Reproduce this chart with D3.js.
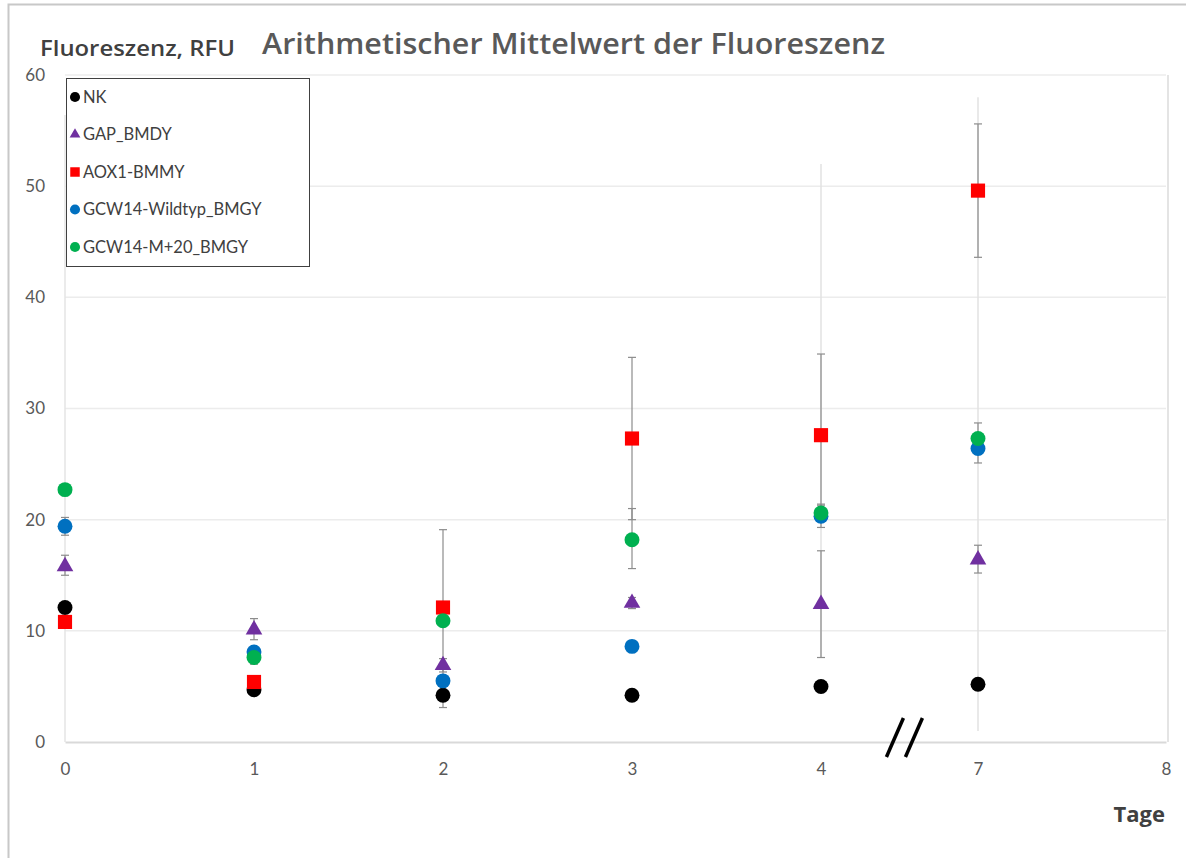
<!DOCTYPE html>
<html>
  <head>
    <meta charset="utf-8">
    <script src="https://cdn.jsdelivr.net/npm/d3@7"></script>
    <style>
      body { margin: 0; background: #fff; }
      text { font-family: Lato, "Open Sans", sans-serif; }
      .tick text { fill: #595959; font-size: 17px; }
      .legend text { fill: #404040; font-size: 16.5px; }
      .label { font-family: "Open Sans", Lato, sans-serif; }
    </style>
  </head>
  <body>
    <svg width="1186" height="859"></svg>
    <script>
      // data
      var days = [0, 1, 2, 3, 4, 7];
      var xTicks = [0, 1, 2, 3, 4, 7, 8];
      var yTicks = [0, 10, 20, 30, 40, 50, 60];
      var seriesNames = ['NK', 'GAP_BMDY', 'AOX1-BMMY', 'GCW14-Wildtyp_BMGY', 'GCW14-M+20_BMGY'];
      var seriesColors = ['#000000', '#7030a0', '#ff0000', '#0070c0', '#00b050'];
      var seriesShapes = ['circle', 'triangle', 'square', 'circle', 'circle'];

      var nkMean   = [12.1, 4.7, 4.2, 4.2, 5.0, 5.2];
      var nkLo     = [11.8, 4.4, 3.1, 4.0, 4.8, 5.0];
      var nkHi     = [12.4, 5.0, 5.3, 4.4, 5.2, 5.4];
      var gapMean  = [15.8, 10.1, 6.9, 12.5, 12.4, 16.4];
      var gapLo    = [15.0, 9.2, 6.3, 12.0, 7.6, 15.2];
      var gapHi    = [16.8, 11.1, 7.5, 13.0, 17.2, 17.7];
      var aoxMean  = [10.8, 5.4, 12.1, 27.3, 27.6, 49.6];
      var aoxLo    = [10.5, 5.1, 5.1, 20.0, 20.3, 43.6];
      var aoxHi    = [11.1, 5.7, 19.1, 34.6, 34.9, 55.6];
      var wtMean   = [19.4, 8.1, 5.5, 8.6, 20.3, 26.4];
      var wtLo     = [18.6, 7.7, 5.2, 8.3, 19.3, 25.1];
      var wtHi     = [20.2, 8.5, 5.8, 8.9, 21.3, 27.7];
      var m20Mean  = [22.7, 7.6, 10.9, 18.2, 20.6, 27.3];
      var m20Lo    = [22.3, 7.0, 10.5, 15.6, 20.0, 25.9];
      var m20Hi    = [23.1, 8.4, 11.3, 21.0, 21.4, 28.7];

      // faint leftover whiskers in the original picture
      var faintDays = [4, 7];
      var faintLo = [7.6, 1.0];
      var faintHi = [52.0, 58.0];

      var means = [nkMean, gapMean, aoxMean, wtMean, m20Mean];
      var los = [nkLo, gapLo, aoxLo, wtLo, m20Lo];
      var his = [nkHi, gapHi, aoxHi, wtHi, m20Hi];

      var svg = d3.select('svg');

      // page frame
      svg.append('path')
        .attr('d', 'M8.5,858 V4.5 H1186')
        .attr('fill', 'none')
        .attr('stroke', '#c8c8c8')
        .attr('stroke-width', 2);

      var x = d3.scaleLinear()
        .domain([0, 4, 7, 8])
        .range([65, 821, 978, 1166]);
      var y = d3.scaleLinear()
        .domain([0, 60])
        .range([742, 75]);

      // gridlines
      svg.append('g')
        .selectAll('line')
        .data(yTicks.filter(function (d) { return d > 0; }))
        .join('line')
          .attr('x1', x(0)).attr('x2', x(8))
          .attr('y1', function (d) { return y(d); })
          .attr('y2', function (d) { return y(d); })
          .attr('stroke', '#ececec')
          .attr('stroke-width', 1.5);

      // left and right borders of plot
      svg.append('line')
        .attr('x1', x(0)).attr('x2', x(0))
        .attr('y1', y(0)).attr('y2', y(60) + 40)
        .attr('stroke', '#e4e4e4').attr('stroke-width', 1.5);
      svg.append('line')
        .attr('x1', x(8) + 2).attr('x2', x(8) + 2)
        .attr('y1', y(0)).attr('y2', y(60))
        .attr('stroke', '#e4e4e4').attr('stroke-width', 2);

      // axes
      var yAxis = d3.axisLeft(y).tickValues(yTicks).tickSize(0).tickPadding(20);
      var yAxisG = svg.append('g')
        .attr('transform', 'translate(' + x(0) + ',0)')
        .call(yAxis);
      yAxisG.select('.domain').remove();

      var xAxis = d3.axisBottom(x).tickValues(xTicks).tickSize(0).tickPadding(21)
        .tickFormat(d3.format('d'));
      var xAxisG = svg.append('g')
        .attr('transform', 'translate(0,' + y(0) + ')')
        .call(xAxis);
      xAxisG.select('.domain')
        .attr('stroke', '#d9d9d9')
        .attr('stroke-width', 2);

      // faint whiskers
      svg.append('g')
        .selectAll('line')
        .data(faintDays)
        .join('line')
          .attr('x1', function (d) { return x(d); })
          .attr('x2', function (d) { return x(d); })
          .attr('y1', function (d, i) { return y(faintLo[i]); })
          .attr('y2', function (d, i) { return y(faintHi[i]); })
          .attr('stroke', '#e2e2e2')
          .attr('stroke-width', 1.5);

      // error bars
      var errG = svg.append('g');
      seriesNames.forEach(function (name, s) {
        days.forEach(function (day, i) {
          var cx = x(day);
          var g = errG.append('g').attr('stroke', '#8c8c8c').attr('stroke-width', 1.2);
          g.append('line')
            .attr('x1', cx).attr('x2', cx)
            .attr('y1', y(los[s][i])).attr('y2', y(his[s][i]));
          [los[s][i], his[s][i]].forEach(function (v) {
            g.append('line')
              .attr('x1', cx - 4).attr('x2', cx + 4)
              .attr('y1', y(v)).attr('y2', y(v));
          });
        });
      });

      var symbolFor = {
        circle: d3.symbol(d3.symbolCircle, 175),
        square: d3.symbol(d3.symbolSquare, 200),
        triangle: d3.symbol(d3.symbolTriangle, 120)
      };

      // markers
      seriesNames.forEach(function (name, s) {
        svg.append('g')
          .selectAll('path')
          .data(days)
          .join('path')
            .attr('transform', function (d, i) {
              return 'translate(' + x(d) + ',' + y(means[s][i]) + ')';
            })
            .attr('d', symbolFor[seriesShapes[s]]())
            .attr('fill', seriesColors[s]);
      });

      // legend
      var legend = svg.append('g').attr('class', 'legend');
      legend.append('rect')
        .attr('x', 66.5).attr('y', 78.5)
        .attr('width', 243).attr('height', 188)
        .attr('fill', '#fff')
        .attr('stroke', '#404040')
        .attr('stroke-width', 1);
      var legendSym = {
        circle: d3.symbol(d3.symbolCircle, 80),
        square: d3.symbol(d3.symbolSquare, 90),
        triangle: d3.symbol(d3.symbolTriangle, 50)
      };
      var items = legend.selectAll('g.item')
        .data(seriesNames)
        .join('g')
          .attr('class', 'item')
          .attr('transform', function (d, i) { return 'translate(0,' + (97 + i * 37.5) + ')'; });
      items.append('path')
        .attr('transform', 'translate(75,0)')
        .attr('d', function (d, i) { return legendSym[seriesShapes[i]](); })
        .attr('fill', function (d, i) { return seriesColors[i]; });
      items.append('text')
        .attr('x', 83)
        .attr('dy', '0.36em')
        .text(function (d) { return d; });

      // titles
      svg.append('text')
        .attr('class', 'label')
        .attr('x', 40).attr('y', 56)
        .attr('fill', '#404040')
        .attr('font-size', 22)
        .attr('font-weight', 600)
        .attr('textLength', 195)
        .attr('lengthAdjust', 'spacingAndGlyphs')
        .text('Fluoreszenz, RFU');
      svg.append('text')
        .attr('class', 'label')
        .attr('x', 262).attr('y', 54)
        .attr('fill', '#595959')
        .attr('font-size', 29)
        .attr('font-weight', 600)
        .attr('textLength', 623)
        .attr('lengthAdjust', 'spacingAndGlyphs')
        .text('Arithmetischer Mittelwert der Fluoreszenz');
      svg.append('text')
        .attr('class', 'label')
        .attr('x', 1165).attr('y', 822)
        .attr('text-anchor', 'end')
        .attr('fill', '#404040')
        .attr('font-size', 22)
        .attr('font-weight', 700)
        .text('Tage');

      // axis break mark
      var brk = svg.append('g').attr('stroke', '#000').attr('stroke-width', 3.5);
      [0, 19].forEach(function (dx) {
        brk.append('line')
          .attr('x1', x(5.25) + dx).attr('y1', y(0) + 15)
          .attr('x2', x(5.25) + dx + 17).attr('y2', y(0) - 24);
      });
    </script>
  </body>
</html>
